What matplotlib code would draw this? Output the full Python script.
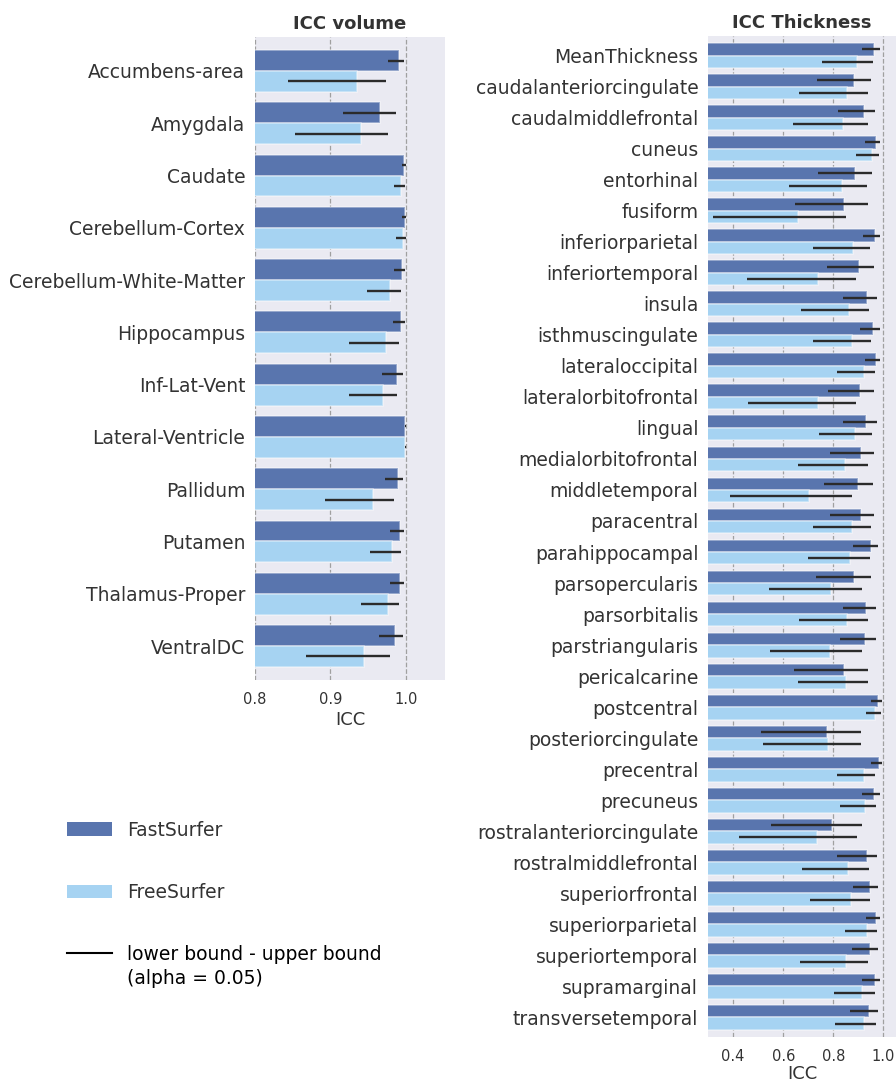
import matplotlib
matplotlib.use('Agg')
import matplotlib.pyplot as plt
from matplotlib.patches import Patch
from matplotlib.lines import Line2D
import numpy as np

plt.rcParams['font.family'] = 'DejaVu Sans'

# subcortical volume ICCs
vol_regions = ["Accumbens-area", "Amygdala", "Caudate", "Cerebellum-Cortex",
               "Cerebellum-White-Matter", "Hippocampus", "Inf-Lat-Vent",
               "Lateral-Ventricle", "Pallidum", "Putamen", "Thalamus-Proper",
               "VentralDC"]
vol_fast = [0.991, 0.966, 0.998, 0.999, 0.995, 0.994, 0.989, 0.9995, 0.990, 0.992, 0.992, 0.986]
vol_fast_lo = [0.976, 0.917, 0.995, 0.995, 0.984, 0.983, 0.969, 0.999, 0.973, 0.979, 0.979, 0.964]
vol_fast_hi = [0.997, 0.987, 1.000, 1.000, 0.999, 0.999, 0.996, 1.000, 0.996, 0.997, 0.997, 0.996]
vol_free = [0.935, 0.940, 0.994, 0.996, 0.979, 0.974, 0.970, 0.9995, 0.956, 0.982, 0.976, 0.945]
vol_free_lo = [0.844, 0.853, 0.984, 0.987, 0.948, 0.925, 0.925, 0.999, 0.893, 0.953, 0.940, 0.867]
vol_free_hi = [0.974, 0.976, 0.999, 1.000, 0.993, 0.991, 0.989, 1.000, 0.984, 0.993, 0.991, 0.979]

# cortical thickness ICCs
thk_regions = ["MeanThickness", "caudalanteriorcingulate", "caudalmiddlefrontal", "cuneus",
               "entorhinal", "fusiform", "inferiorparietal", "inferiortemporal", "insula",
               "isthmuscingulate", "lateraloccipital", "lateralorbitofrontal", "lingual",
               "medialorbitofrontal", "middletemporal", "paracentral", "parahippocampal",
               "parsopercularis", "parsorbitalis", "parstriangularis", "pericalcarine",
               "postcentral", "posteriorcingulate", "precentral", "precuneus",
               "rostralanteriorcingulate", "rostralmiddlefrontal", "superiorfrontal",
               "superiorparietal", "superiortemporal", "supramarginal", "transversetemporal"]
thk_fast = [0.963, 0.883, 0.923, 0.970, 0.887, 0.842, 0.967, 0.903, 0.933, 0.960, 0.970,
            0.907, 0.930, 0.909, 0.897, 0.909, 0.951, 0.883, 0.931, 0.927, 0.842, 0.980,
            0.774, 0.983, 0.963, 0.793, 0.934, 0.948, 0.971, 0.947, 0.967, 0.943]
thk_fast_lo = [0.913, 0.733, 0.817, 0.925, 0.737, 0.646, 0.917, 0.773, 0.837, 0.905, 0.925,
               0.777, 0.837, 0.785, 0.761, 0.785, 0.877, 0.729, 0.837, 0.825, 0.642, 0.952,
               0.510, 0.952, 0.913, 0.550, 0.813, 0.877, 0.929, 0.873, 0.913, 0.865]
thk_fast_hi = [0.988, 0.952, 0.968, 0.988, 0.956, 0.937, 0.988, 0.964, 0.976, 0.988, 0.988,
               0.964, 0.976, 0.964, 0.960, 0.964, 0.980, 0.952, 0.972, 0.972, 0.937, 0.996,
               0.909, 0.996, 0.988, 0.913, 0.976, 0.980, 0.988, 0.980, 0.988, 0.980]
thk_free = [0.893, 0.853, 0.838, 0.954, 0.833, 0.658, 0.877, 0.739, 0.861, 0.875, 0.921,
            0.739, 0.887, 0.848, 0.701, 0.875, 0.867, 0.789, 0.853, 0.788, 0.850, 0.968,
            0.777, 0.921, 0.925, 0.733, 0.858, 0.871, 0.935, 0.850, 0.914, 0.922]
thk_free_lo = [0.753, 0.662, 0.638, 0.889, 0.622, 0.319, 0.717, 0.454, 0.670, 0.717, 0.813,
               0.458, 0.741, 0.658, 0.387, 0.717, 0.697, 0.542, 0.662, 0.546, 0.658, 0.929,
               0.518, 0.813, 0.825, 0.423, 0.674, 0.705, 0.845, 0.666, 0.801, 0.805]
thk_free_hi = [0.960, 0.940, 0.937, 0.984, 0.933, 0.849, 0.948, 0.889, 0.944, 0.952, 0.968,
               0.889, 0.956, 0.937, 0.873, 0.952, 0.948, 0.913, 0.940, 0.913, 0.940, 0.992,
               0.909, 0.968, 0.972, 0.893, 0.944, 0.948, 0.976, 0.940, 0.968, 0.972]

FAST_COL = '#5975ae'
FREE_COL = '#a6d3f2'
TXT = '#333333'
BG = '#eaeaf2'


def icc_panel(ax, regions, fast, fast_lo, fast_hi, free, free_lo, free_hi,
              title, xlim, xticks, margin, xlabelpad=3):
    y = np.arange(len(regions))
    h = 0.4
    edge = (1, 1, 1, 0.45)
    ax.set_facecolor(BG)
    ax.barh(y - h / 2, fast, height=h, color=FAST_COL, edgecolor=edge, linewidth=1.2, zorder=2)
    ax.barh(y + h / 2, free, height=h, color=FREE_COL, edgecolor=edge, linewidth=1.2, zorder=2)
    ax.hlines(y - h / 2, fast_lo, fast_hi, color='#2b2b2b', lw=1.7, zorder=3)
    ax.hlines(y + h / 2, free_lo, free_hi, color='#2b2b2b', lw=1.7, zorder=3)
    ax.set_yticks(y)
    ax.set_yticklabels(regions, fontsize=13.5, color=TXT)
    ax.set_xticks(xticks)
    ax.set_xticklabels([f'{t:.1f}' for t in xticks], fontsize=10.5, color=TXT)
    ax.set_xlim(*xlim)
    ax.set_ylim(len(regions) - 1 + margin, -margin)
    ax.tick_params(axis='y', length=0, pad=7)
    ax.tick_params(axis='x', length=0, pad=8.5)
    ax.xaxis.grid(True, color='#a0a0a0', ls='--', lw=0.9, zorder=0)
    ax.set_axisbelow(True)
    for s in ax.spines.values():
        s.set_visible(False)
    ax.set_xlabel('ICC', fontsize=13, color=TXT, labelpad=xlabelpad)
    ax.set_title(title, fontsize=13, fontweight='bold', color=TXT, pad=6)


fig = plt.figure(figsize=(8.96, 10.83), dpi=100)
W, H = 896, 1083
ax1 = fig.add_axes([255 / W, 1 - 680 / H, 190 / W, (680 - 37) / H])
ax2 = fig.add_axes([708 / W, 1 - 1037 / H, 188 / W, (1037 - 36) / H])

icc_panel(ax1, vol_regions, vol_fast, vol_fast_lo, vol_fast_hi,
          vol_free, vol_free_lo, vol_free_hi,
          'ICC volume', (0.8, 1.052), [0.8, 0.9, 1.0], 0.65)
icc_panel(ax2, thk_regions, thk_fast, thk_fast_lo, thk_fast_hi,
          thk_free, thk_free_lo, thk_free_hi,
          'ICC Thickness', (0.3, 1.05), [0.4, 0.6, 0.8, 1.0], 0.63, xlabelpad=1)

handles = [Patch(facecolor=FAST_COL), Patch(facecolor=FREE_COL),
           Line2D([], [], color='black', lw=1.5)]
labels = ['FastSurfer', 'FreeSurfer', 'lower bound - upper bound']
leg = fig.legend(handles, labels, loc='upper left', bbox_to_anchor=(50 / W, 1 - 804 / H),
                 frameon=False, fontsize=13.5, handlelength=2.4, handleheight=0.75,
                 handletextpad=0.8, labelspacing=2.3)
for t in leg.get_texts()[:2]:
    t.set_color(TXT)
fig.text(127 / W, 1 - 978 / H, '(alpha = 0.05)', fontsize=13.5, color='black',
         ha='left', va='center')

fig.savefig('out.png', dpi=100)
plt.close()
